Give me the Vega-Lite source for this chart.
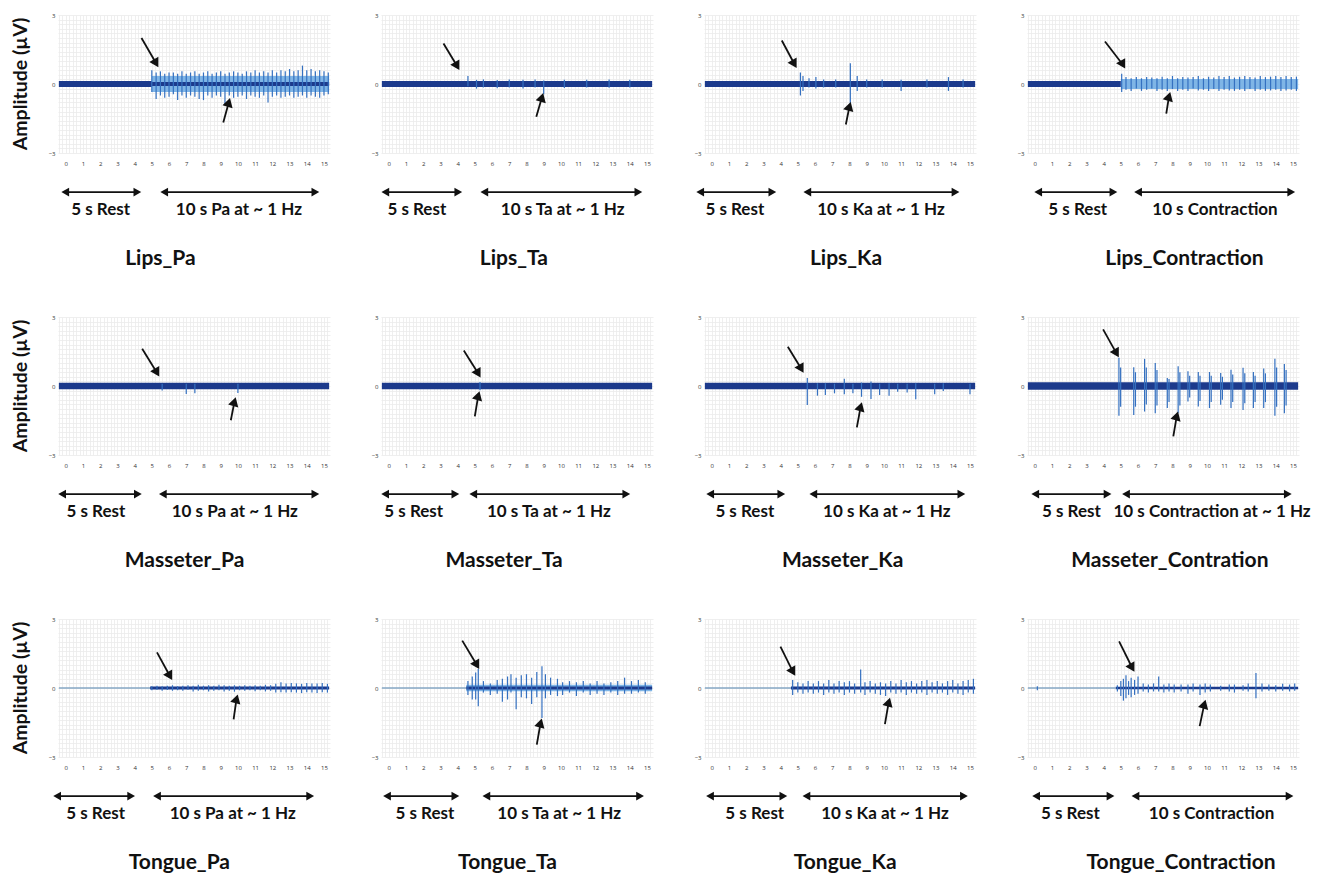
{
"$schema": "https://vega.github.io/schema/vega-lite/v6.json",
"padding": {"left": 10, "top": 12, "right": 0, "bottom": 0},
"background": "white",
"data": {"values": [
{"p":"Lips_Pa","k":"b","t":-0.4,"t2":5.0,"v":-0.13,"v2":0.13},
{"p":"Lips_Pa","k":"e","t":5.0,"t2":15.3,"v":-0.35,"v2":0.35},
{"p":"Lips_Pa","k":"b","t":5.0,"t2":15.3,"v":-0.09,"v2":0.09},
{"p":"Lips_Pa","k":"sp","t":5.0,"v":-0.35,"v2":0.6},
{"p":"Lips_Pa","k":"sp","t":5.25,"v":-0.65,"v2":0.5},
{"p":"Lips_Pa","k":"sp","t":5.5,"v":-0.5,"v2":0.55},
{"p":"Lips_Pa","k":"sp","t":5.75,"v":-0.6,"v2":0.45},
{"p":"Lips_Pa","k":"sp","t":6.0,"v":-0.55,"v2":0.5},
{"p":"Lips_Pa","k":"sp","t":6.25,"v":-0.45,"v2":0.5},
{"p":"Lips_Pa","k":"sp","t":6.5,"v":-0.7,"v2":0.45},
{"p":"Lips_Pa","k":"sp","t":6.75,"v":-0.5,"v2":0.55},
{"p":"Lips_Pa","k":"sp","t":7.0,"v":-0.6,"v2":0.45},
{"p":"Lips_Pa","k":"sp","t":7.25,"v":-0.5,"v2":0.5},
{"p":"Lips_Pa","k":"sp","t":7.5,"v":-0.55,"v2":0.55},
{"p":"Lips_Pa","k":"sp","t":7.75,"v":-0.65,"v2":0.45},
{"p":"Lips_Pa","k":"sp","t":8.0,"v":-0.7,"v2":0.5},
{"p":"Lips_Pa","k":"sp","t":8.25,"v":-0.5,"v2":0.55},
{"p":"Lips_Pa","k":"sp","t":8.5,"v":-0.6,"v2":0.45},
{"p":"Lips_Pa","k":"sp","t":8.75,"v":-0.5,"v2":0.5},
{"p":"Lips_Pa","k":"sp","t":9.0,"v":-0.55,"v2":0.55},
{"p":"Lips_Pa","k":"sp","t":9.25,"v":-0.9,"v2":0.45},
{"p":"Lips_Pa","k":"sp","t":9.5,"v":-0.5,"v2":0.5},
{"p":"Lips_Pa","k":"sp","t":9.75,"v":-0.6,"v2":0.55},
{"p":"Lips_Pa","k":"sp","t":10.0,"v":-0.55,"v2":0.5},
{"p":"Lips_Pa","k":"sp","t":10.25,"v":-0.5,"v2":0.45},
{"p":"Lips_Pa","k":"sp","t":10.5,"v":-0.65,"v2":0.55},
{"p":"Lips_Pa","k":"sp","t":10.75,"v":-0.5,"v2":0.5},
{"p":"Lips_Pa","k":"sp","t":11.0,"v":-0.55,"v2":0.6},
{"p":"Lips_Pa","k":"sp","t":11.25,"v":-0.6,"v2":0.5},
{"p":"Lips_Pa","k":"sp","t":11.5,"v":-0.5,"v2":0.55},
{"p":"Lips_Pa","k":"sp","t":11.75,"v":-0.8,"v2":0.5},
{"p":"Lips_Pa","k":"sp","t":12.0,"v":-0.55,"v2":0.6},
{"p":"Lips_Pa","k":"sp","t":12.25,"v":-0.5,"v2":0.5},
{"p":"Lips_Pa","k":"sp","t":12.5,"v":-0.6,"v2":0.6},
{"p":"Lips_Pa","k":"sp","t":12.75,"v":-0.55,"v2":0.55},
{"p":"Lips_Pa","k":"sp","t":13.0,"v":-0.5,"v2":0.65},
{"p":"Lips_Pa","k":"sp","t":13.25,"v":-0.6,"v2":0.55},
{"p":"Lips_Pa","k":"sp","t":13.5,"v":-0.55,"v2":0.6},
{"p":"Lips_Pa","k":"sp","t":13.75,"v":-0.5,"v2":0.8},
{"p":"Lips_Pa","k":"sp","t":14.0,"v":-0.6,"v2":0.6},
{"p":"Lips_Pa","k":"sp","t":14.25,"v":-0.5,"v2":0.65},
{"p":"Lips_Pa","k":"sp","t":14.5,"v":-0.55,"v2":0.55},
{"p":"Lips_Pa","k":"sp","t":14.75,"v":-0.6,"v2":0.6},
{"p":"Lips_Pa","k":"sp","t":15.0,"v":-0.5,"v2":0.55},
{"p":"Lips_Pa","k":"sp","t":15.25,"v":-0.45,"v2":0.5},
{"p":"Lips_Pa","k":"ad","t":5.25,"v":0.9,"t2":4.4,"v2":2.0},
{"p":"Lips_Pa","k":"au","t":9.47,"v":-0.8,"t2":9.15,"v2":-1.67},
{"p":"Lips_Pa","k":"hl","t":-0.03,"t2":4.16,"v":-4.7},
{"p":"Lips_Pa","k":"hr","t":4.16,"v":-4.7},
{"p":"Lips_Pa","k":"hl","t":5.72,"t2":14.5,"v":-4.7},
{"p":"Lips_Pa","k":"hr","t":14.5,"v":-4.7},
{"p":"Lips_Pa","k":"tx","t":2.03,"v":-5.47,"s":"5 s Rest"},
{"p":"Lips_Pa","k":"tx","t":10.06,"v":-5.47,"s":"10 s Pa at ~ 1 Hz"},
{"p":"Lips_Pa","k":"ti","t":5.5,"v":-7.6,"s":"Lips_Pa"},
{"p":"Lips_Pa","k":"yt","t":-2.6,"v":0,"s":"Amplitude  (µV)"},

{"p":"Lips_Ta","k":"b","t":-0.4,"t2":15.3,"v":-0.13,"v2":0.13},
{"p":"Lips_Ta","k":"sp","t":4.6,"v":-0.1,"v2":0.35},
{"p":"Lips_Ta","k":"sp","t":5.1,"v":-0.2,"v2":0.18},
{"p":"Lips_Ta","k":"sp","t":5.5,"v":-0.15,"v2":0.2},
{"p":"Lips_Ta","k":"sp","t":6.3,"v":-0.18,"v2":0.17},
{"p":"Lips_Ta","k":"sp","t":7.0,"v":-0.15,"v2":0.2},
{"p":"Lips_Ta","k":"sp","t":7.8,"v":-0.2,"v2":0.18},
{"p":"Lips_Ta","k":"sp","t":8.5,"v":-0.15,"v2":0.2},
{"p":"Lips_Ta","k":"sp","t":9.0,"v":-0.45,"v2":0.15},
{"p":"Lips_Ta","k":"sp","t":10.2,"v":-0.17,"v2":0.18},
{"p":"Lips_Ta","k":"sp","t":11.5,"v":-0.15,"v2":0.18},
{"p":"Lips_Ta","k":"sp","t":12.8,"v":-0.16,"v2":0.2},
{"p":"Lips_Ta","k":"sp","t":14.0,"v":-0.15,"v2":0.18},
{"p":"Lips_Ta","k":"ad","t":3.97,"v":0.78,"t2":3.18,"v2":1.76},
{"p":"Lips_Ta","k":"au","t":8.9,"v":-0.58,"t2":8.57,"v2":-1.42},
{"p":"Lips_Ta","k":"hl","t":-0.2,"t2":4.04,"v":-4.7},
{"p":"Lips_Ta","k":"hr","t":4.04,"v":-4.7},
{"p":"Lips_Ta","k":"hl","t":5.55,"t2":14.5,"v":-4.7},
{"p":"Lips_Ta","k":"hr","t":14.5,"v":-4.7},
{"p":"Lips_Ta","k":"tx","t":1.63,"v":-5.47,"s":"5 s Rest"},
{"p":"Lips_Ta","k":"tx","t":10.1,"v":-5.47,"s":"10 s Ta at ~ 1 Hz"},
{"p":"Lips_Ta","k":"ti","t":7.27,"v":-7.6,"s":"Lips_Ta"},

{"p":"Lips_Ka","k":"b","t":-0.4,"t2":15.3,"v":-0.13,"v2":0.13},
{"p":"Lips_Ka","k":"sp","t":5.15,"v":-0.5,"v2":0.5},
{"p":"Lips_Ka","k":"sp","t":5.3,"v":-0.3,"v2":0.35},
{"p":"Lips_Ka","k":"sp","t":5.65,"v":-0.15,"v2":0.25},
{"p":"Lips_Ka","k":"sp","t":6.05,"v":-0.2,"v2":0.3},
{"p":"Lips_Ka","k":"sp","t":6.5,"v":-0.15,"v2":0.2},
{"p":"Lips_Ka","k":"sp","t":7.2,"v":-0.15,"v2":0.2},
{"p":"Lips_Ka","k":"sp","t":8.05,"v":-0.95,"v2":0.9},
{"p":"Lips_Ka","k":"sp","t":8.45,"v":-0.3,"v2":0.35},
{"p":"Lips_Ka","k":"sp","t":9.0,"v":-0.15,"v2":0.2},
{"p":"Lips_Ka","k":"sp","t":9.9,"v":-0.15,"v2":0.2},
{"p":"Lips_Ka","k":"sp","t":11.0,"v":-0.3,"v2":0.18},
{"p":"Lips_Ka","k":"sp","t":12.5,"v":-0.15,"v2":0.2},
{"p":"Lips_Ka","k":"sp","t":13.75,"v":-0.3,"v2":0.3},
{"p":"Lips_Ka","k":"sp","t":14.6,"v":-0.15,"v2":0.2},
{"p":"Lips_Ka","k":"ad","t":4.8,"v":0.87,"t2":4.07,"v2":1.89},
{"p":"Lips_Ka","k":"au","t":8.0,"v":-0.97,"t2":7.79,"v2":-1.76},
{"p":"Lips_Ka","k":"hl","t":-0.67,"t2":3.52,"v":-4.7},
{"p":"Lips_Ka","k":"hr","t":3.52,"v":-4.7},
{"p":"Lips_Ka","k":"hl","t":5.55,"t2":14.16,"v":-4.7},
{"p":"Lips_Ka","k":"hr","t":14.16,"v":-4.7},
{"p":"Lips_Ka","k":"tx","t":1.34,"v":-5.47,"s":"5 s Rest"},
{"p":"Lips_Ka","k":"tx","t":9.83,"v":-5.47,"s":"10 s Ka at ~ 1 Hz"},
{"p":"Lips_Ka","k":"ti","t":7.8,"v":-7.6,"s":"Lips_Ka"},

{"p":"Lips_Contraction","k":"b","t":-0.4,"t2":5.0,"v":-0.13,"v2":0.13},
{"p":"Lips_Contraction","k":"e","t":5.0,"t2":15.3,"v":-0.22,"v2":0.22},
{"p":"Lips_Contraction","k":"sp","t":5.05,"v":-0.35,"v2":0.45},
{"p":"Lips_Contraction","k":"sp","t":5.3,"v":-0.25,"v2":0.3},
{"p":"Lips_Contraction","k":"sp","t":5.6,"v":-0.3,"v2":0.25},
{"p":"Lips_Contraction","k":"sp","t":5.9,"v":-0.2,"v2":0.3},
{"p":"Lips_Contraction","k":"sp","t":6.2,"v":-0.3,"v2":0.25},
{"p":"Lips_Contraction","k":"sp","t":6.5,"v":-0.25,"v2":0.3},
{"p":"Lips_Contraction","k":"sp","t":6.8,"v":-0.2,"v2":0.28},
{"p":"Lips_Contraction","k":"sp","t":7.1,"v":-0.3,"v2":0.25},
{"p":"Lips_Contraction","k":"sp","t":7.4,"v":-0.25,"v2":0.32},
{"p":"Lips_Contraction","k":"sp","t":7.7,"v":-0.3,"v2":0.25},
{"p":"Lips_Contraction","k":"sp","t":8.0,"v":-0.22,"v2":0.35},
{"p":"Lips_Contraction","k":"sp","t":8.3,"v":-0.3,"v2":0.25},
{"p":"Lips_Contraction","k":"sp","t":8.6,"v":-0.25,"v2":0.3},
{"p":"Lips_Contraction","k":"sp","t":8.9,"v":-0.3,"v2":0.28},
{"p":"Lips_Contraction","k":"sp","t":9.2,"v":-0.2,"v2":0.3},
{"p":"Lips_Contraction","k":"sp","t":9.5,"v":-0.28,"v2":0.35},
{"p":"Lips_Contraction","k":"sp","t":9.8,"v":-0.25,"v2":0.25},
{"p":"Lips_Contraction","k":"sp","t":10.1,"v":-0.3,"v2":0.32},
{"p":"Lips_Contraction","k":"sp","t":10.4,"v":-0.22,"v2":0.28},
{"p":"Lips_Contraction","k":"sp","t":10.7,"v":-0.3,"v2":0.35},
{"p":"Lips_Contraction","k":"sp","t":11.0,"v":-0.25,"v2":0.3},
{"p":"Lips_Contraction","k":"sp","t":11.3,"v":-0.28,"v2":0.35},
{"p":"Lips_Contraction","k":"sp","t":11.6,"v":-0.3,"v2":0.28},
{"p":"Lips_Contraction","k":"sp","t":11.9,"v":-0.25,"v2":0.32},
{"p":"Lips_Contraction","k":"sp","t":12.2,"v":-0.3,"v2":0.35},
{"p":"Lips_Contraction","k":"sp","t":12.5,"v":-0.22,"v2":0.3},
{"p":"Lips_Contraction","k":"sp","t":12.8,"v":-0.3,"v2":0.28},
{"p":"Lips_Contraction","k":"sp","t":13.1,"v":-0.25,"v2":0.35},
{"p":"Lips_Contraction","k":"sp","t":13.4,"v":-0.3,"v2":0.3},
{"p":"Lips_Contraction","k":"sp","t":13.7,"v":-0.28,"v2":0.32},
{"p":"Lips_Contraction","k":"sp","t":14.0,"v":-0.25,"v2":0.35},
{"p":"Lips_Contraction","k":"sp","t":14.3,"v":-0.3,"v2":0.3},
{"p":"Lips_Contraction","k":"sp","t":14.6,"v":-0.28,"v2":0.35},
{"p":"Lips_Contraction","k":"sp","t":14.9,"v":-0.25,"v2":0.3},
{"p":"Lips_Contraction","k":"sp","t":15.2,"v":-0.3,"v2":0.32},
{"p":"Lips_Contraction","k":"ad","t":5.12,"v":0.84,"t2":4.08,"v2":1.85},
{"p":"Lips_Contraction","k":"au","t":7.8,"v":-0.54,"t2":7.64,"v2":-1.29},
{"p":"Lips_Contraction","k":"hl","t":0.2,"t2":4.57,"v":-4.7},
{"p":"Lips_Contraction","k":"hr","t":4.57,"v":-4.7},
{"p":"Lips_Contraction","k":"hl","t":6.0,"t2":14.9,"v":-4.7},
{"p":"Lips_Contraction","k":"hr","t":14.9,"v":-4.7},
{"p":"Lips_Contraction","k":"tx","t":2.5,"v":-5.47,"s":"5 s Rest"},
{"p":"Lips_Contraction","k":"tx","t":10.47,"v":-5.47,"s":"10 s Contraction"},
{"p":"Lips_Contraction","k":"ti","t":8.7,"v":-7.6,"s":"Lips_Contraction"},

{"p":"Masseter_Pa","k":"b","t":-0.4,"t2":15.3,"v":-0.14,"v2":0.14},
{"p":"Masseter_Pa","k":"sp","t":5.6,"v":-0.2,"v2":0.1},
{"p":"Masseter_Pa","k":"sp","t":7.0,"v":-0.35,"v2":0.1},
{"p":"Masseter_Pa","k":"sp","t":7.5,"v":-0.32,"v2":0.1},
{"p":"Masseter_Pa","k":"sp","t":10.0,"v":-0.3,"v2":0.1},
{"p":"Masseter_Pa","k":"ad","t":5.3,"v":0.58,"t2":4.44,"v2":1.62},
{"p":"Masseter_Pa","k":"au","t":9.8,"v":-0.68,"t2":9.59,"v2":-1.49},
{"p":"Masseter_Pa","k":"hl","t":-0.21,"t2":4.19,"v":-4.7},
{"p":"Masseter_Pa","k":"hr","t":4.19,"v":-4.7},
{"p":"Masseter_Pa","k":"hl","t":5.64,"t2":14.5,"v":-4.7},
{"p":"Masseter_Pa","k":"hr","t":14.5,"v":-4.7},
{"p":"Masseter_Pa","k":"tx","t":1.75,"v":-5.47,"s":"5 s Rest"},
{"p":"Masseter_Pa","k":"tx","t":9.82,"v":-5.47,"s":"10 s Pa at ~ 1 Hz"},
{"p":"Masseter_Pa","k":"ti","t":6.9,"v":-7.6,"s":"Masseter_Pa"},
{"p":"Masseter_Pa","k":"yt","t":-2.6,"v":0,"s":"Amplitude  (µV)"},

{"p":"Masseter_Ta","k":"b","t":-0.4,"t2":15.3,"v":-0.14,"v2":0.14},
{"p":"Masseter_Ta","k":"sp","t":5.3,"v":-0.18,"v2":0.17},
{"p":"Masseter_Ta","k":"ad","t":5.2,"v":0.54,"t2":4.36,"v2":1.54},
{"p":"Masseter_Ta","k":"au","t":5.2,"v":-0.42,"t2":5.0,"v2":-1.32},
{"p":"Masseter_Ta","k":"hl","t":-0.21,"t2":3.87,"v":-4.7},
{"p":"Masseter_Ta","k":"hr","t":3.87,"v":-4.7},
{"p":"Masseter_Ta","k":"hl","t":4.91,"t2":13.8,"v":-4.7},
{"p":"Masseter_Ta","k":"hr","t":13.8,"v":-4.7},
{"p":"Masseter_Ta","k":"tx","t":1.45,"v":-5.47,"s":"5 s Rest"},
{"p":"Masseter_Ta","k":"tx","t":9.3,"v":-5.47,"s":"10 s Ta at ~ 1 Hz"},
{"p":"Masseter_Ta","k":"ti","t":6.7,"v":-7.6,"s":"Masseter_Ta"},

{"p":"Masseter_Ka","k":"b","t":-0.4,"t2":15.3,"v":-0.14,"v2":0.14},
{"p":"Masseter_Ka","k":"sp","t":5.55,"v":-0.83,"v2":0.35},
{"p":"Masseter_Ka","k":"sp","t":6.14,"v":-0.42,"v2":0.12},
{"p":"Masseter_Ka","k":"sp","t":6.6,"v":-0.39,"v2":0.12},
{"p":"Masseter_Ka","k":"sp","t":7.13,"v":-0.32,"v2":0.1},
{"p":"Masseter_Ka","k":"sp","t":7.7,"v":-0.36,"v2":0.31},
{"p":"Masseter_Ka","k":"sp","t":8.2,"v":-0.32,"v2":0.1},
{"p":"Masseter_Ka","k":"sp","t":8.7,"v":-0.47,"v2":0.15},
{"p":"Masseter_Ka","k":"sp","t":9.25,"v":-0.57,"v2":0.2},
{"p":"Masseter_Ka","k":"sp","t":9.75,"v":-0.39,"v2":0.1},
{"p":"Masseter_Ka","k":"sp","t":10.3,"v":-0.42,"v2":0.12},
{"p":"Masseter_Ka","k":"sp","t":10.8,"v":-0.25,"v2":0.1},
{"p":"Masseter_Ka","k":"sp","t":11.35,"v":-0.28,"v2":0.1},
{"p":"Masseter_Ka","k":"sp","t":11.85,"v":-0.58,"v2":0.12},
{"p":"Masseter_Ka","k":"sp","t":12.95,"v":-0.36,"v2":0.1},
{"p":"Masseter_Ka","k":"sp","t":13.45,"v":-0.22,"v2":0.12},
{"p":"Masseter_Ka","k":"sp","t":15.0,"v":-0.36,"v2":0.1},
{"p":"Masseter_Ka","k":"ad","t":5.2,"v":0.75,"t2":4.42,"v2":1.71},
{"p":"Masseter_Ka","k":"au","t":8.65,"v":-0.9,"t2":8.43,"v2":-1.8},
{"p":"Masseter_Ka","k":"hl","t":-0.09,"t2":4.04,"v":-4.7},
{"p":"Masseter_Ka","k":"hr","t":4.04,"v":-4.7},
{"p":"Masseter_Ka","k":"hl","t":5.9,"t2":14.5,"v":-4.7},
{"p":"Masseter_Ka","k":"hr","t":14.5,"v":-4.7},
{"p":"Masseter_Ka","k":"tx","t":1.92,"v":-5.47,"s":"5 s Rest"},
{"p":"Masseter_Ka","k":"tx","t":10.17,"v":-5.47,"s":"10 s Ka at ~ 1 Hz"},
{"p":"Masseter_Ka","k":"ti","t":7.6,"v":-7.6,"s":"Masseter_Ka"},

{"p":"Masseter_Contration","k":"b","t":-0.4,"t2":15.3,"v":-0.16,"v2":0.16},
{"p":"Masseter_Contration","k":"sp","t":4.89,"v":-1.29,"v2":1.23},
{"p":"Masseter_Contration","k":"sp","t":4.99,"v":-0.9,"v2":0.8},
{"p":"Masseter_Contration","k":"sp","t":5.75,"v":-1.26,"v2":0.82},
{"p":"Masseter_Contration","k":"sp","t":5.85,"v":-0.9,"v2":0.6},
{"p":"Masseter_Contration","k":"sp","t":6.38,"v":-1.11,"v2":1.18},
{"p":"Masseter_Contration","k":"sp","t":6.48,"v":-0.8,"v2":0.8},
{"p":"Masseter_Contration","k":"sp","t":7.0,"v":-1.18,"v2":1.0},
{"p":"Masseter_Contration","k":"sp","t":7.1,"v":-0.85,"v2":0.7},
{"p":"Masseter_Contration","k":"sp","t":7.7,"v":-0.96,"v2":0.35},
{"p":"Masseter_Contration","k":"sp","t":7.8,"v":-0.7,"v2":0.3},
{"p":"Masseter_Contration","k":"sp","t":8.33,"v":-1.18,"v2":0.86},
{"p":"Masseter_Contration","k":"sp","t":8.43,"v":-0.85,"v2":0.6},
{"p":"Masseter_Contration","k":"sp","t":8.9,"v":-0.67,"v2":0.64},
{"p":"Masseter_Contration","k":"sp","t":9.0,"v":-0.5,"v2":0.45},
{"p":"Masseter_Contration","k":"sp","t":9.5,"v":-0.89,"v2":0.61},
{"p":"Masseter_Contration","k":"sp","t":9.6,"v":-0.65,"v2":0.45},
{"p":"Masseter_Contration","k":"sp","t":10.15,"v":-0.96,"v2":0.61},
{"p":"Masseter_Contration","k":"sp","t":10.25,"v":-0.7,"v2":0.45},
{"p":"Masseter_Contration","k":"sp","t":10.8,"v":-0.82,"v2":0.57},
{"p":"Masseter_Contration","k":"sp","t":10.9,"v":-0.6,"v2":0.4},
{"p":"Masseter_Contration","k":"sp","t":11.4,"v":-0.96,"v2":0.71},
{"p":"Masseter_Contration","k":"sp","t":11.5,"v":-0.7,"v2":0.5},
{"p":"Masseter_Contration","k":"sp","t":12.1,"v":-1.04,"v2":0.79},
{"p":"Masseter_Contration","k":"sp","t":12.2,"v":-0.75,"v2":0.55},
{"p":"Masseter_Contration","k":"sp","t":12.7,"v":-0.96,"v2":0.61},
{"p":"Masseter_Contration","k":"sp","t":12.8,"v":-0.7,"v2":0.45},
{"p":"Masseter_Contration","k":"sp","t":13.3,"v":-0.96,"v2":0.76},
{"p":"Masseter_Contration","k":"sp","t":13.4,"v":-0.7,"v2":0.55},
{"p":"Masseter_Contration","k":"sp","t":13.95,"v":-1.29,"v2":1.18},
{"p":"Masseter_Contration","k":"sp","t":14.05,"v":-0.9,"v2":0.8},
{"p":"Masseter_Contration","k":"sp","t":14.5,"v":-1.18,"v2":0.96},
{"p":"Masseter_Contration","k":"sp","t":14.6,"v":-0.85,"v2":0.7},
{"p":"Masseter_Contration","k":"ad","t":4.75,"v":1.42,"t2":3.97,"v2":2.46},
{"p":"Masseter_Contration","k":"au","t":8.25,"v":-1.3,"t2":8.05,"v2":-2.19},
{"p":"Masseter_Contration","k":"hl","t":0.03,"t2":4.23,"v":-4.7},
{"p":"Masseter_Contration","k":"hr","t":4.23,"v":-4.7},
{"p":"Masseter_Contration","k":"hl","t":5.3,"t2":14.7,"v":-4.7},
{"p":"Masseter_Contration","k":"hr","t":14.7,"v":-4.7},
{"p":"Masseter_Contration","k":"tx","t":2.13,"v":-5.47,"s":"5 s Rest"},
{"p":"Masseter_Contration","k":"tx","t":10.3,"v":-5.47,"s":"10 s Contraction at ~ 1 Hz"},
{"p":"Masseter_Contration","k":"ti","t":7.85,"v":-7.6,"s":"Masseter_Contration"},

{"p":"Tongue_Pa","k":"r","t":-0.4,"t2":4.9,"v":0},
{"p":"Tongue_Pa","k":"b","t":4.9,"t2":15.3,"v":-0.06,"v2":0.06},
{"p":"Tongue_Pa","k":"sp","t":5.0,"v":-0.1,"v2":0.08},
{"p":"Tongue_Pa","k":"sp","t":5.3,"v":-0.08,"v2":0.1},
{"p":"Tongue_Pa","k":"sp","t":5.6,"v":-0.12,"v2":0.08},
{"p":"Tongue_Pa","k":"sp","t":5.9,"v":-0.09,"v2":0.1},
{"p":"Tongue_Pa","k":"sp","t":6.2,"v":-0.12,"v2":0.12},
{"p":"Tongue_Pa","k":"sp","t":6.5,"v":-0.1,"v2":0.08},
{"p":"Tongue_Pa","k":"sp","t":6.8,"v":-0.12,"v2":0.1},
{"p":"Tongue_Pa","k":"sp","t":7.1,"v":-0.08,"v2":0.12},
{"p":"Tongue_Pa","k":"sp","t":7.4,"v":-0.15,"v2":0.1},
{"p":"Tongue_Pa","k":"sp","t":7.7,"v":-0.12,"v2":0.14},
{"p":"Tongue_Pa","k":"sp","t":8.0,"v":-0.1,"v2":0.1},
{"p":"Tongue_Pa","k":"sp","t":8.3,"v":-0.15,"v2":0.12},
{"p":"Tongue_Pa","k":"sp","t":8.6,"v":-0.12,"v2":0.1},
{"p":"Tongue_Pa","k":"sp","t":8.9,"v":-0.1,"v2":0.14},
{"p":"Tongue_Pa","k":"sp","t":9.2,"v":-0.15,"v2":0.12},
{"p":"Tongue_Pa","k":"sp","t":9.5,"v":-0.12,"v2":0.1},
{"p":"Tongue_Pa","k":"sp","t":9.8,"v":-0.16,"v2":0.12},
{"p":"Tongue_Pa","k":"sp","t":10.1,"v":-0.1,"v2":0.1},
{"p":"Tongue_Pa","k":"sp","t":10.4,"v":-0.12,"v2":0.12},
{"p":"Tongue_Pa","k":"sp","t":10.7,"v":-0.1,"v2":0.1},
{"p":"Tongue_Pa","k":"sp","t":11.0,"v":-0.14,"v2":0.12},
{"p":"Tongue_Pa","k":"sp","t":11.3,"v":-0.1,"v2":0.1},
{"p":"Tongue_Pa","k":"sp","t":11.6,"v":-0.15,"v2":0.14},
{"p":"Tongue_Pa","k":"sp","t":11.9,"v":-0.12,"v2":0.12},
{"p":"Tongue_Pa","k":"sp","t":12.2,"v":-0.2,"v2":0.18},
{"p":"Tongue_Pa","k":"sp","t":12.5,"v":-0.18,"v2":0.25},
{"p":"Tongue_Pa","k":"sp","t":12.8,"v":-0.2,"v2":0.2},
{"p":"Tongue_Pa","k":"sp","t":13.1,"v":-0.18,"v2":0.22},
{"p":"Tongue_Pa","k":"sp","t":13.4,"v":-0.2,"v2":0.2},
{"p":"Tongue_Pa","k":"sp","t":13.7,"v":-0.22,"v2":0.18},
{"p":"Tongue_Pa","k":"sp","t":14.0,"v":-0.18,"v2":0.22},
{"p":"Tongue_Pa","k":"sp","t":14.3,"v":-0.2,"v2":0.2},
{"p":"Tongue_Pa","k":"sp","t":14.6,"v":-0.22,"v2":0.2},
{"p":"Tongue_Pa","k":"sp","t":14.9,"v":-0.18,"v2":0.22},
{"p":"Tongue_Pa","k":"sp","t":15.2,"v":-0.2,"v2":0.18},
{"p":"Tongue_Pa","k":"ad","t":6.05,"v":0.52,"t2":5.3,"v2":1.55},
{"p":"Tongue_Pa","k":"au","t":9.92,"v":-0.47,"t2":9.75,"v2":-1.36},
{"p":"Tongue_Pa","k":"hl","t":-0.5,"t2":3.8,"v":-4.7},
{"p":"Tongue_Pa","k":"hr","t":3.8,"v":-4.7},
{"p":"Tongue_Pa","k":"hl","t":5.3,"t2":14.2,"v":-4.7},
{"p":"Tongue_Pa","k":"hr","t":14.2,"v":-4.7},
{"p":"Tongue_Pa","k":"tx","t":1.74,"v":-5.47,"s":"5 s Rest"},
{"p":"Tongue_Pa","k":"tx","t":9.7,"v":-5.47,"s":"10 s Pa at ~ 1 Hz"},
{"p":"Tongue_Pa","k":"ti","t":6.6,"v":-7.6,"s":"Tongue_Pa"},
{"p":"Tongue_Pa","k":"yt","t":-2.6,"v":0,"s":"Amplitude  (µV)"},

{"p":"Tongue_Ta","k":"r","t":-0.4,"t2":4.5,"v":0},
{"p":"Tongue_Ta","k":"e","t":4.5,"t2":15.3,"v":-0.14,"v2":0.14},
{"p":"Tongue_Ta","k":"b","t":4.5,"t2":15.3,"v":-0.06,"v2":0.06},
{"p":"Tongue_Ta","k":"sp","t":4.6,"v":-0.3,"v2":0.3},
{"p":"Tongue_Ta","k":"sp","t":4.85,"v":-0.5,"v2":0.5},
{"p":"Tongue_Ta","k":"sp","t":5.05,"v":-0.5,"v2":0.67},
{"p":"Tongue_Ta","k":"sp","t":5.2,"v":-0.79,"v2":0.83},
{"p":"Tongue_Ta","k":"sp","t":5.5,"v":-0.2,"v2":0.3},
{"p":"Tongue_Ta","k":"sp","t":5.9,"v":-0.3,"v2":0.2},
{"p":"Tongue_Ta","k":"sp","t":6.3,"v":-0.25,"v2":0.35},
{"p":"Tongue_Ta","k":"sp","t":6.6,"v":-0.6,"v2":0.4},
{"p":"Tongue_Ta","k":"sp","t":6.9,"v":-0.5,"v2":0.5},
{"p":"Tongue_Ta","k":"sp","t":7.1,"v":-0.2,"v2":0.6},
{"p":"Tongue_Ta","k":"sp","t":7.4,"v":-0.92,"v2":0.45},
{"p":"Tongue_Ta","k":"sp","t":7.7,"v":-0.4,"v2":0.55},
{"p":"Tongue_Ta","k":"sp","t":8.0,"v":-0.45,"v2":0.6},
{"p":"Tongue_Ta","k":"sp","t":8.3,"v":-0.7,"v2":0.45},
{"p":"Tongue_Ta","k":"sp","t":8.6,"v":-0.4,"v2":0.7},
{"p":"Tongue_Ta","k":"sp","t":8.9,"v":-1.3,"v2":0.95},
{"p":"Tongue_Ta","k":"sp","t":9.1,"v":-0.45,"v2":0.6},
{"p":"Tongue_Ta","k":"sp","t":9.4,"v":-0.3,"v2":0.45},
{"p":"Tongue_Ta","k":"sp","t":9.8,"v":-0.35,"v2":0.4},
{"p":"Tongue_Ta","k":"sp","t":10.1,"v":-0.3,"v2":0.25},
{"p":"Tongue_Ta","k":"sp","t":10.5,"v":-0.2,"v2":0.3},
{"p":"Tongue_Ta","k":"sp","t":10.9,"v":-0.35,"v2":0.25},
{"p":"Tongue_Ta","k":"sp","t":11.3,"v":-0.2,"v2":0.3},
{"p":"Tongue_Ta","k":"sp","t":11.7,"v":-0.3,"v2":0.2},
{"p":"Tongue_Ta","k":"sp","t":12.1,"v":-0.25,"v2":0.3},
{"p":"Tongue_Ta","k":"sp","t":12.5,"v":-0.3,"v2":0.2},
{"p":"Tongue_Ta","k":"sp","t":12.9,"v":-0.2,"v2":0.25},
{"p":"Tongue_Ta","k":"sp","t":13.3,"v":-0.3,"v2":0.3},
{"p":"Tongue_Ta","k":"sp","t":13.7,"v":-0.25,"v2":0.45},
{"p":"Tongue_Ta","k":"sp","t":14.1,"v":-0.25,"v2":0.3},
{"p":"Tongue_Ta","k":"sp","t":14.5,"v":-0.2,"v2":0.35},
{"p":"Tongue_Ta","k":"sp","t":14.9,"v":-0.25,"v2":0.25},
{"p":"Tongue_Ta","k":"ad","t":5.12,"v":1.0,"t2":4.27,"v2":2.06},
{"p":"Tongue_Ta","k":"au","t":8.82,"v":-1.52,"t2":8.6,"v2":-2.46},
{"p":"Tongue_Ta","k":"hl","t":-0.1,"t2":3.87,"v":-4.7},
{"p":"Tongue_Ta","k":"hr","t":3.87,"v":-4.7},
{"p":"Tongue_Ta","k":"hl","t":5.67,"t2":14.6,"v":-4.7},
{"p":"Tongue_Ta","k":"hr","t":14.6,"v":-4.7},
{"p":"Tongue_Ta","k":"tx","t":2.1,"v":-5.47,"s":"5 s Rest"},
{"p":"Tongue_Ta","k":"tx","t":9.9,"v":-5.47,"s":"10 s Ta at ~ 1 Hz"},
{"p":"Tongue_Ta","k":"ti","t":6.9,"v":-7.6,"s":"Tongue_Ta"},

{"p":"Tongue_Ka","k":"r","t":-0.4,"t2":4.6,"v":0},
{"p":"Tongue_Ka","k":"b","t":4.6,"t2":15.3,"v":-0.06,"v2":0.06},
{"p":"Tongue_Ka","k":"sp","t":4.7,"v":-0.3,"v2":0.35},
{"p":"Tongue_Ka","k":"sp","t":5.0,"v":-0.2,"v2":0.25},
{"p":"Tongue_Ka","k":"sp","t":5.3,"v":-0.25,"v2":0.2},
{"p":"Tongue_Ka","k":"sp","t":5.6,"v":-0.2,"v2":0.3},
{"p":"Tongue_Ka","k":"sp","t":5.9,"v":-0.25,"v2":0.2},
{"p":"Tongue_Ka","k":"sp","t":6.2,"v":-0.2,"v2":0.3},
{"p":"Tongue_Ka","k":"sp","t":6.5,"v":-0.3,"v2":0.2},
{"p":"Tongue_Ka","k":"sp","t":6.8,"v":-0.2,"v2":0.35},
{"p":"Tongue_Ka","k":"sp","t":7.1,"v":-0.25,"v2":0.2},
{"p":"Tongue_Ka","k":"sp","t":7.4,"v":-0.2,"v2":0.3},
{"p":"Tongue_Ka","k":"sp","t":7.7,"v":-0.3,"v2":0.25},
{"p":"Tongue_Ka","k":"sp","t":8.0,"v":-0.2,"v2":0.3},
{"p":"Tongue_Ka","k":"sp","t":8.3,"v":-0.25,"v2":0.2},
{"p":"Tongue_Ka","k":"sp","t":8.65,"v":-0.2,"v2":0.8},
{"p":"Tongue_Ka","k":"sp","t":8.9,"v":-0.3,"v2":0.25},
{"p":"Tongue_Ka","k":"sp","t":9.2,"v":-0.2,"v2":0.3},
{"p":"Tongue_Ka","k":"sp","t":9.5,"v":-0.25,"v2":0.2},
{"p":"Tongue_Ka","k":"sp","t":9.8,"v":-0.3,"v2":0.25},
{"p":"Tongue_Ka","k":"sp","t":10.1,"v":-0.35,"v2":0.2},
{"p":"Tongue_Ka","k":"sp","t":10.4,"v":-0.2,"v2":0.3},
{"p":"Tongue_Ka","k":"sp","t":10.7,"v":-0.25,"v2":0.2},
{"p":"Tongue_Ka","k":"sp","t":11.0,"v":-0.2,"v2":0.35},
{"p":"Tongue_Ka","k":"sp","t":11.3,"v":-0.3,"v2":0.25},
{"p":"Tongue_Ka","k":"sp","t":11.6,"v":-0.2,"v2":0.3},
{"p":"Tongue_Ka","k":"sp","t":11.9,"v":-0.25,"v2":0.2},
{"p":"Tongue_Ka","k":"sp","t":12.2,"v":-0.2,"v2":0.3},
{"p":"Tongue_Ka","k":"sp","t":12.5,"v":-0.3,"v2":0.35},
{"p":"Tongue_Ka","k":"sp","t":12.8,"v":-0.2,"v2":0.25},
{"p":"Tongue_Ka","k":"sp","t":13.1,"v":-0.25,"v2":0.3},
{"p":"Tongue_Ka","k":"sp","t":13.4,"v":-0.2,"v2":0.2},
{"p":"Tongue_Ka","k":"sp","t":13.7,"v":-0.3,"v2":0.3},
{"p":"Tongue_Ka","k":"sp","t":14.0,"v":-0.2,"v2":0.35},
{"p":"Tongue_Ka","k":"sp","t":14.3,"v":-0.25,"v2":0.2},
{"p":"Tongue_Ka","k":"sp","t":14.6,"v":-0.3,"v2":0.3},
{"p":"Tongue_Ka","k":"sp","t":14.9,"v":-0.2,"v2":0.35},
{"p":"Tongue_Ka","k":"sp","t":15.2,"v":-0.25,"v2":0.4},
{"p":"Tongue_Ka","k":"ad","t":4.72,"v":0.7,"t2":3.99,"v2":1.8},
{"p":"Tongue_Ka","k":"au","t":10.28,"v":-0.61,"t2":10.06,"v2":-1.57},
{"p":"Tongue_Ka","k":"hl","t":-0.1,"t2":4.16,"v":-4.7},
{"p":"Tongue_Ka","k":"hr","t":4.16,"v":-4.7},
{"p":"Tongue_Ka","k":"hl","t":5.5,"t2":14.65,"v":-4.7},
{"p":"Tongue_Ka","k":"hr","t":14.65,"v":-4.7},
{"p":"Tongue_Ka","k":"tx","t":2.5,"v":-5.47,"s":"5 s Rest"},
{"p":"Tongue_Ka","k":"tx","t":10.06,"v":-5.47,"s":"10 s Ka at ~ 1 Hz"},
{"p":"Tongue_Ka","k":"ti","t":7.75,"v":-7.6,"s":"Tongue_Ka"},

{"p":"Tongue_Contraction","k":"r","t":-0.4,"t2":4.7,"v":0},
{"p":"Tongue_Contraction","k":"sp","t":0.15,"v":-0.1,"v2":0.08},
{"p":"Tongue_Contraction","k":"b","t":4.7,"t2":15.3,"v":-0.05,"v2":0.05},
{"p":"Tongue_Contraction","k":"sp","t":4.8,"v":-0.15,"v2":0.12},
{"p":"Tongue_Contraction","k":"sp","t":5.0,"v":-0.35,"v2":0.3},
{"p":"Tongue_Contraction","k":"sp","t":5.15,"v":-0.55,"v2":0.4},
{"p":"Tongue_Contraction","k":"sp","t":5.3,"v":-0.45,"v2":0.55},
{"p":"Tongue_Contraction","k":"sp","t":5.45,"v":-0.3,"v2":0.3},
{"p":"Tongue_Contraction","k":"sp","t":5.6,"v":-0.4,"v2":0.45},
{"p":"Tongue_Contraction","k":"sp","t":5.8,"v":-0.3,"v2":0.35},
{"p":"Tongue_Contraction","k":"sp","t":6.0,"v":-0.25,"v2":0.5},
{"p":"Tongue_Contraction","k":"sp","t":6.3,"v":-0.15,"v2":0.2},
{"p":"Tongue_Contraction","k":"sp","t":6.6,"v":-0.2,"v2":0.15},
{"p":"Tongue_Contraction","k":"sp","t":6.9,"v":-0.15,"v2":0.2},
{"p":"Tongue_Contraction","k":"sp","t":7.2,"v":-0.15,"v2":0.5},
{"p":"Tongue_Contraction","k":"sp","t":7.5,"v":-0.2,"v2":0.15},
{"p":"Tongue_Contraction","k":"sp","t":7.8,"v":-0.15,"v2":0.2},
{"p":"Tongue_Contraction","k":"sp","t":8.1,"v":-0.2,"v2":0.15},
{"p":"Tongue_Contraction","k":"sp","t":8.5,"v":-0.15,"v2":0.15},
{"p":"Tongue_Contraction","k":"sp","t":8.9,"v":-0.25,"v2":0.15},
{"p":"Tongue_Contraction","k":"sp","t":9.2,"v":-0.15,"v2":0.2},
{"p":"Tongue_Contraction","k":"sp","t":9.6,"v":-0.3,"v2":0.15},
{"p":"Tongue_Contraction","k":"sp","t":9.9,"v":-0.2,"v2":0.2},
{"p":"Tongue_Contraction","k":"sp","t":10.2,"v":-0.15,"v2":0.15},
{"p":"Tongue_Contraction","k":"sp","t":10.8,"v":-0.12,"v2":0.1},
{"p":"Tongue_Contraction","k":"sp","t":11.3,"v":-0.15,"v2":0.15},
{"p":"Tongue_Contraction","k":"sp","t":11.6,"v":-0.2,"v2":0.15},
{"p":"Tongue_Contraction","k":"sp","t":12.1,"v":-0.12,"v2":0.12},
{"p":"Tongue_Contraction","k":"sp","t":12.4,"v":-0.15,"v2":0.2},
{"p":"Tongue_Contraction","k":"sp","t":12.85,"v":-0.45,"v2":0.65},
{"p":"Tongue_Contraction","k":"sp","t":13.2,"v":-0.15,"v2":0.2},
{"p":"Tongue_Contraction","k":"sp","t":13.6,"v":-0.12,"v2":0.15},
{"p":"Tongue_Contraction","k":"sp","t":14.0,"v":-0.15,"v2":0.12},
{"p":"Tongue_Contraction","k":"sp","t":14.4,"v":-0.12,"v2":0.18},
{"p":"Tongue_Contraction","k":"sp","t":14.8,"v":-0.15,"v2":0.15},
{"p":"Tongue_Contraction","k":"sp","t":15.1,"v":-0.12,"v2":0.2},
{"p":"Tongue_Contraction","k":"ad","t":5.66,"v":0.88,"t2":4.9,"v2":2.03},
{"p":"Tongue_Contraction","k":"au","t":9.85,"v":-0.7,"t2":9.58,"v2":-1.66},
{"p":"Tongue_Contraction","k":"hl","t":0.08,"t2":4.4,"v":-4.7},
{"p":"Tongue_Contraction","k":"hr","t":4.4,"v":-4.7},
{"p":"Tongue_Contraction","k":"hl","t":5.85,"t2":14.8,"v":-4.7},
{"p":"Tongue_Contraction","k":"hr","t":14.8,"v":-4.7},
{"p":"Tongue_Contraction","k":"tx","t":2.07,"v":-5.47,"s":"5 s Rest"},
{"p":"Tongue_Contraction","k":"tx","t":10.27,"v":-5.47,"s":"10 s Contraction"},
{"p":"Tongue_Contraction","k":"ti","t":8.5,"v":-7.6,"s":"Tongue_Contraction"}
]},
"vconcat": [
{"hconcat": [
{"width":272,"height":138,"transform":[{"filter":"datum.p==='Lips_Pa'"}],
 "encoding":{"x":{"field":"t","type":"quantitative","scale":{"domain":[-0.45,15.35],"nice":false,"zero":false},"axis":{"title":null,"tickCount":64,"labelPadding":7,"labelExpr":"datum.value % 1 === 0 && datum.value >= 0 ? format(datum.value, 'd') : ''"}},
  "y":{"field":"v","type":"quantitative","scale":{"domain":[-3,3],"nice":false,"zero":false},"axis":{"title":null,"tickCount":24,"labelExpr":"abs(datum.value) === 3 || datum.value === 0 ? format(datum.value, 'd') : ''"}}},
 "layer":[
  {"transform":[{"filter":"datum.k==='e'"}],"mark":{"type":"rect","color":"#7fb5e6"},"encoding":{"x2":{"field":"t2"},"y2":{"field":"v2"}}},
  {"transform":[{"filter":"datum.k==='b'"}],"mark":{"type":"rect","color":"#1c3a8c"},"encoding":{"x2":{"field":"t2"},"y2":{"field":"v2"}}},
  {"transform":[{"filter":"datum.k==='r'"}],"mark":{"type":"rule","color":"#86a7c4","strokeWidth":1.5},"encoding":{"x2":{"field":"t2"}}},
  {"transform":[{"filter":"datum.k==='sp'"}],"mark":{"type":"rule","color":"#3470c0","strokeWidth":1.2},"encoding":{"y2":{"field":"v2"}}},
  {"transform":[{"filter":"datum.k==='ad'||datum.k==='au'"}],"mark":{"type":"rule","color":"#111111","strokeWidth":1.8},"encoding":{"x2":{"field":"t2"},"y2":{"field":"v2"}}},
  {"transform":[{"filter":"datum.k==='hl'"}],"mark":{"type":"rule","color":"#111111","strokeWidth":1.6},"encoding":{"x2":{"field":"t2"}}},
  {"transform":[{"filter":"datum.k==='ad'"}],"mark":{"type":"point","shape":"triangle-down","angle":330,"filled":true,"opacity":1,"color":"#111111","size":110},"encoding":{}},
  {"transform":[{"filter":"datum.k==='au'"}],"mark":{"type":"point","shape":"triangle-up","angle":16,"filled":true,"opacity":1,"color":"#111111","size":110},"encoding":{}},
  {"transform":[{"filter":"datum.k==='hl'"}],"mark":{"type":"point","shape":"triangle-left","filled":true,"opacity":1,"color":"#111111","size":80},"encoding":{}},
  {"transform":[{"filter":"datum.k==='hr'"}],"mark":{"type":"point","shape":"triangle-right","filled":true,"opacity":1,"color":"#111111","size":80},"encoding":{}},
  {"transform":[{"filter":"datum.k==='tx'"}],"mark":{"type":"text","font":"Lato","fontWeight":"bold","fontSize":17,"color":"#111111"},"encoding":{"text":{"field":"s"}}},
  {"transform":[{"filter":"datum.k==='ti'"}],"mark":{"type":"text","font":"Lato","fontWeight":"bold","fontSize":21,"color":"#111111"},"encoding":{"text":{"field":"s"}}},
  {"transform":[{"filter":"datum.k==='yt'"}],"mark":{"type":"text","font":"Lato","fontWeight":"bold","fontSize":19.5,"angle":270,"color":"#111111"},"encoding":{"text":{"field":"s"}}}
 ]},
{"width":272,"height":138,"transform":[{"filter":"datum.p==='Lips_Ta'"}],
 "encoding":{"x":{"field":"t","type":"quantitative","scale":{"domain":[-0.45,15.35],"nice":false,"zero":false},"axis":{"title":null,"tickCount":64,"labelPadding":7,"labelExpr":"datum.value % 1 === 0 && datum.value >= 0 ? format(datum.value, 'd') : ''"}},
  "y":{"field":"v","type":"quantitative","scale":{"domain":[-3,3],"nice":false,"zero":false},"axis":{"title":null,"tickCount":24,"labelExpr":"abs(datum.value) === 3 || datum.value === 0 ? format(datum.value, 'd') : ''"}}},
 "layer":[
  {"transform":[{"filter":"datum.k==='e'"}],"mark":{"type":"rect","color":"#7fb5e6"},"encoding":{"x2":{"field":"t2"},"y2":{"field":"v2"}}},
  {"transform":[{"filter":"datum.k==='b'"}],"mark":{"type":"rect","color":"#1c3a8c"},"encoding":{"x2":{"field":"t2"},"y2":{"field":"v2"}}},
  {"transform":[{"filter":"datum.k==='r'"}],"mark":{"type":"rule","color":"#86a7c4","strokeWidth":1.5},"encoding":{"x2":{"field":"t2"}}},
  {"transform":[{"filter":"datum.k==='sp'"}],"mark":{"type":"rule","color":"#3470c0","strokeWidth":1.2},"encoding":{"y2":{"field":"v2"}}},
  {"transform":[{"filter":"datum.k==='ad'||datum.k==='au'"}],"mark":{"type":"rule","color":"#111111","strokeWidth":1.8},"encoding":{"x2":{"field":"t2"},"y2":{"field":"v2"}}},
  {"transform":[{"filter":"datum.k==='hl'"}],"mark":{"type":"rule","color":"#111111","strokeWidth":1.6},"encoding":{"x2":{"field":"t2"}}},
  {"transform":[{"filter":"datum.k==='ad'"}],"mark":{"type":"point","shape":"triangle-down","angle":330,"filled":true,"opacity":1,"color":"#111111","size":110},"encoding":{}},
  {"transform":[{"filter":"datum.k==='au'"}],"mark":{"type":"point","shape":"triangle-up","angle":16,"filled":true,"opacity":1,"color":"#111111","size":110},"encoding":{}},
  {"transform":[{"filter":"datum.k==='hl'"}],"mark":{"type":"point","shape":"triangle-left","filled":true,"opacity":1,"color":"#111111","size":80},"encoding":{}},
  {"transform":[{"filter":"datum.k==='hr'"}],"mark":{"type":"point","shape":"triangle-right","filled":true,"opacity":1,"color":"#111111","size":80},"encoding":{}},
  {"transform":[{"filter":"datum.k==='tx'"}],"mark":{"type":"text","font":"Lato","fontWeight":"bold","fontSize":17,"color":"#111111"},"encoding":{"text":{"field":"s"}}},
  {"transform":[{"filter":"datum.k==='ti'"}],"mark":{"type":"text","font":"Lato","fontWeight":"bold","fontSize":21,"color":"#111111"},"encoding":{"text":{"field":"s"}}}
 ]},
{"width":272,"height":138,"transform":[{"filter":"datum.p==='Lips_Ka'"}],
 "encoding":{"x":{"field":"t","type":"quantitative","scale":{"domain":[-0.45,15.35],"nice":false,"zero":false},"axis":{"title":null,"tickCount":64,"labelPadding":7,"labelExpr":"datum.value % 1 === 0 && datum.value >= 0 ? format(datum.value, 'd') : ''"}},
  "y":{"field":"v","type":"quantitative","scale":{"domain":[-3,3],"nice":false,"zero":false},"axis":{"title":null,"tickCount":24,"labelExpr":"abs(datum.value) === 3 || datum.value === 0 ? format(datum.value, 'd') : ''"}}},
 "layer":[
  {"transform":[{"filter":"datum.k==='e'"}],"mark":{"type":"rect","color":"#7fb5e6"},"encoding":{"x2":{"field":"t2"},"y2":{"field":"v2"}}},
  {"transform":[{"filter":"datum.k==='b'"}],"mark":{"type":"rect","color":"#1c3a8c"},"encoding":{"x2":{"field":"t2"},"y2":{"field":"v2"}}},
  {"transform":[{"filter":"datum.k==='r'"}],"mark":{"type":"rule","color":"#86a7c4","strokeWidth":1.5},"encoding":{"x2":{"field":"t2"}}},
  {"transform":[{"filter":"datum.k==='sp'"}],"mark":{"type":"rule","color":"#3470c0","strokeWidth":1.2},"encoding":{"y2":{"field":"v2"}}},
  {"transform":[{"filter":"datum.k==='ad'||datum.k==='au'"}],"mark":{"type":"rule","color":"#111111","strokeWidth":1.8},"encoding":{"x2":{"field":"t2"},"y2":{"field":"v2"}}},
  {"transform":[{"filter":"datum.k==='hl'"}],"mark":{"type":"rule","color":"#111111","strokeWidth":1.6},"encoding":{"x2":{"field":"t2"}}},
  {"transform":[{"filter":"datum.k==='ad'"}],"mark":{"type":"point","shape":"triangle-down","angle":330,"filled":true,"opacity":1,"color":"#111111","size":110},"encoding":{}},
  {"transform":[{"filter":"datum.k==='au'"}],"mark":{"type":"point","shape":"triangle-up","angle":16,"filled":true,"opacity":1,"color":"#111111","size":110},"encoding":{}},
  {"transform":[{"filter":"datum.k==='hl'"}],"mark":{"type":"point","shape":"triangle-left","filled":true,"opacity":1,"color":"#111111","size":80},"encoding":{}},
  {"transform":[{"filter":"datum.k==='hr'"}],"mark":{"type":"point","shape":"triangle-right","filled":true,"opacity":1,"color":"#111111","size":80},"encoding":{}},
  {"transform":[{"filter":"datum.k==='tx'"}],"mark":{"type":"text","font":"Lato","fontWeight":"bold","fontSize":17,"color":"#111111"},"encoding":{"text":{"field":"s"}}},
  {"transform":[{"filter":"datum.k==='ti'"}],"mark":{"type":"text","font":"Lato","fontWeight":"bold","fontSize":21,"color":"#111111"},"encoding":{"text":{"field":"s"}}}
 ]},
{"width":272,"height":138,"transform":[{"filter":"datum.p==='Lips_Contraction'"}],
 "encoding":{"x":{"field":"t","type":"quantitative","scale":{"domain":[-0.45,15.35],"nice":false,"zero":false},"axis":{"title":null,"tickCount":64,"labelPadding":7,"labelExpr":"datum.value % 1 === 0 && datum.value >= 0 ? format(datum.value, 'd') : ''"}},
  "y":{"field":"v","type":"quantitative","scale":{"domain":[-3,3],"nice":false,"zero":false},"axis":{"title":null,"tickCount":24,"labelExpr":"abs(datum.value) === 3 || datum.value === 0 ? format(datum.value, 'd') : ''"}}},
 "layer":[
  {"transform":[{"filter":"datum.k==='e'"}],"mark":{"type":"rect","color":"#7fb5e6"},"encoding":{"x2":{"field":"t2"},"y2":{"field":"v2"}}},
  {"transform":[{"filter":"datum.k==='b'"}],"mark":{"type":"rect","color":"#1c3a8c"},"encoding":{"x2":{"field":"t2"},"y2":{"field":"v2"}}},
  {"transform":[{"filter":"datum.k==='r'"}],"mark":{"type":"rule","color":"#86a7c4","strokeWidth":1.5},"encoding":{"x2":{"field":"t2"}}},
  {"transform":[{"filter":"datum.k==='sp'"}],"mark":{"type":"rule","color":"#3470c0","strokeWidth":1.2},"encoding":{"y2":{"field":"v2"}}},
  {"transform":[{"filter":"datum.k==='ad'||datum.k==='au'"}],"mark":{"type":"rule","color":"#111111","strokeWidth":1.8},"encoding":{"x2":{"field":"t2"},"y2":{"field":"v2"}}},
  {"transform":[{"filter":"datum.k==='hl'"}],"mark":{"type":"rule","color":"#111111","strokeWidth":1.6},"encoding":{"x2":{"field":"t2"}}},
  {"transform":[{"filter":"datum.k==='ad'"}],"mark":{"type":"point","shape":"triangle-down","angle":330,"filled":true,"opacity":1,"color":"#111111","size":110},"encoding":{}},
  {"transform":[{"filter":"datum.k==='au'"}],"mark":{"type":"point","shape":"triangle-up","angle":16,"filled":true,"opacity":1,"color":"#111111","size":110},"encoding":{}},
  {"transform":[{"filter":"datum.k==='hl'"}],"mark":{"type":"point","shape":"triangle-left","filled":true,"opacity":1,"color":"#111111","size":80},"encoding":{}},
  {"transform":[{"filter":"datum.k==='hr'"}],"mark":{"type":"point","shape":"triangle-right","filled":true,"opacity":1,"color":"#111111","size":80},"encoding":{}},
  {"transform":[{"filter":"datum.k==='tx'"}],"mark":{"type":"text","font":"Lato","fontWeight":"bold","fontSize":17,"color":"#111111"},"encoding":{"text":{"field":"s"}}},
  {"transform":[{"filter":"datum.k==='ti'"}],"mark":{"type":"text","font":"Lato","fontWeight":"bold","fontSize":21,"color":"#111111"},"encoding":{"text":{"field":"s"}}}
 ]}
], "spacing": 51, "bounds": "flush"},
{"hconcat": [
{"width":272,"height":138,"transform":[{"filter":"datum.p==='Masseter_Pa'"}],
 "encoding":{"x":{"field":"t","type":"quantitative","scale":{"domain":[-0.45,15.35],"nice":false,"zero":false},"axis":{"title":null,"tickCount":64,"labelPadding":7,"labelExpr":"datum.value % 1 === 0 && datum.value >= 0 ? format(datum.value, 'd') : ''"}},
  "y":{"field":"v","type":"quantitative","scale":{"domain":[-3,3],"nice":false,"zero":false},"axis":{"title":null,"tickCount":24,"labelExpr":"abs(datum.value) === 3 || datum.value === 0 ? format(datum.value, 'd') : ''"}}},
 "layer":[
  {"transform":[{"filter":"datum.k==='e'"}],"mark":{"type":"rect","color":"#7fb5e6"},"encoding":{"x2":{"field":"t2"},"y2":{"field":"v2"}}},
  {"transform":[{"filter":"datum.k==='b'"}],"mark":{"type":"rect","color":"#1c3a8c"},"encoding":{"x2":{"field":"t2"},"y2":{"field":"v2"}}},
  {"transform":[{"filter":"datum.k==='r'"}],"mark":{"type":"rule","color":"#86a7c4","strokeWidth":1.5},"encoding":{"x2":{"field":"t2"}}},
  {"transform":[{"filter":"datum.k==='sp'"}],"mark":{"type":"rule","color":"#3470c0","strokeWidth":1.2},"encoding":{"y2":{"field":"v2"}}},
  {"transform":[{"filter":"datum.k==='ad'||datum.k==='au'"}],"mark":{"type":"rule","color":"#111111","strokeWidth":1.8},"encoding":{"x2":{"field":"t2"},"y2":{"field":"v2"}}},
  {"transform":[{"filter":"datum.k==='hl'"}],"mark":{"type":"rule","color":"#111111","strokeWidth":1.6},"encoding":{"x2":{"field":"t2"}}},
  {"transform":[{"filter":"datum.k==='ad'"}],"mark":{"type":"point","shape":"triangle-down","angle":330,"filled":true,"opacity":1,"color":"#111111","size":110},"encoding":{}},
  {"transform":[{"filter":"datum.k==='au'"}],"mark":{"type":"point","shape":"triangle-up","angle":16,"filled":true,"opacity":1,"color":"#111111","size":110},"encoding":{}},
  {"transform":[{"filter":"datum.k==='hl'"}],"mark":{"type":"point","shape":"triangle-left","filled":true,"opacity":1,"color":"#111111","size":80},"encoding":{}},
  {"transform":[{"filter":"datum.k==='hr'"}],"mark":{"type":"point","shape":"triangle-right","filled":true,"opacity":1,"color":"#111111","size":80},"encoding":{}},
  {"transform":[{"filter":"datum.k==='tx'"}],"mark":{"type":"text","font":"Lato","fontWeight":"bold","fontSize":17,"color":"#111111"},"encoding":{"text":{"field":"s"}}},
  {"transform":[{"filter":"datum.k==='ti'"}],"mark":{"type":"text","font":"Lato","fontWeight":"bold","fontSize":21,"color":"#111111"},"encoding":{"text":{"field":"s"}}},
  {"transform":[{"filter":"datum.k==='yt'"}],"mark":{"type":"text","font":"Lato","fontWeight":"bold","fontSize":19.5,"angle":270,"color":"#111111"},"encoding":{"text":{"field":"s"}}}
 ]},
{"width":272,"height":138,"transform":[{"filter":"datum.p==='Masseter_Ta'"}],
 "encoding":{"x":{"field":"t","type":"quantitative","scale":{"domain":[-0.45,15.35],"nice":false,"zero":false},"axis":{"title":null,"tickCount":64,"labelPadding":7,"labelExpr":"datum.value % 1 === 0 && datum.value >= 0 ? format(datum.value, 'd') : ''"}},
  "y":{"field":"v","type":"quantitative","scale":{"domain":[-3,3],"nice":false,"zero":false},"axis":{"title":null,"tickCount":24,"labelExpr":"abs(datum.value) === 3 || datum.value === 0 ? format(datum.value, 'd') : ''"}}},
 "layer":[
  {"transform":[{"filter":"datum.k==='e'"}],"mark":{"type":"rect","color":"#7fb5e6"},"encoding":{"x2":{"field":"t2"},"y2":{"field":"v2"}}},
  {"transform":[{"filter":"datum.k==='b'"}],"mark":{"type":"rect","color":"#1c3a8c"},"encoding":{"x2":{"field":"t2"},"y2":{"field":"v2"}}},
  {"transform":[{"filter":"datum.k==='r'"}],"mark":{"type":"rule","color":"#86a7c4","strokeWidth":1.5},"encoding":{"x2":{"field":"t2"}}},
  {"transform":[{"filter":"datum.k==='sp'"}],"mark":{"type":"rule","color":"#3470c0","strokeWidth":1.2},"encoding":{"y2":{"field":"v2"}}},
  {"transform":[{"filter":"datum.k==='ad'||datum.k==='au'"}],"mark":{"type":"rule","color":"#111111","strokeWidth":1.8},"encoding":{"x2":{"field":"t2"},"y2":{"field":"v2"}}},
  {"transform":[{"filter":"datum.k==='hl'"}],"mark":{"type":"rule","color":"#111111","strokeWidth":1.6},"encoding":{"x2":{"field":"t2"}}},
  {"transform":[{"filter":"datum.k==='ad'"}],"mark":{"type":"point","shape":"triangle-down","angle":330,"filled":true,"opacity":1,"color":"#111111","size":110},"encoding":{}},
  {"transform":[{"filter":"datum.k==='au'"}],"mark":{"type":"point","shape":"triangle-up","angle":16,"filled":true,"opacity":1,"color":"#111111","size":110},"encoding":{}},
  {"transform":[{"filter":"datum.k==='hl'"}],"mark":{"type":"point","shape":"triangle-left","filled":true,"opacity":1,"color":"#111111","size":80},"encoding":{}},
  {"transform":[{"filter":"datum.k==='hr'"}],"mark":{"type":"point","shape":"triangle-right","filled":true,"opacity":1,"color":"#111111","size":80},"encoding":{}},
  {"transform":[{"filter":"datum.k==='tx'"}],"mark":{"type":"text","font":"Lato","fontWeight":"bold","fontSize":17,"color":"#111111"},"encoding":{"text":{"field":"s"}}},
  {"transform":[{"filter":"datum.k==='ti'"}],"mark":{"type":"text","font":"Lato","fontWeight":"bold","fontSize":21,"color":"#111111"},"encoding":{"text":{"field":"s"}}}
 ]},
{"width":272,"height":138,"transform":[{"filter":"datum.p==='Masseter_Ka'"}],
 "encoding":{"x":{"field":"t","type":"quantitative","scale":{"domain":[-0.45,15.35],"nice":false,"zero":false},"axis":{"title":null,"tickCount":64,"labelPadding":7,"labelExpr":"datum.value % 1 === 0 && datum.value >= 0 ? format(datum.value, 'd') : ''"}},
  "y":{"field":"v","type":"quantitative","scale":{"domain":[-3,3],"nice":false,"zero":false},"axis":{"title":null,"tickCount":24,"labelExpr":"abs(datum.value) === 3 || datum.value === 0 ? format(datum.value, 'd') : ''"}}},
 "layer":[
  {"transform":[{"filter":"datum.k==='e'"}],"mark":{"type":"rect","color":"#7fb5e6"},"encoding":{"x2":{"field":"t2"},"y2":{"field":"v2"}}},
  {"transform":[{"filter":"datum.k==='b'"}],"mark":{"type":"rect","color":"#1c3a8c"},"encoding":{"x2":{"field":"t2"},"y2":{"field":"v2"}}},
  {"transform":[{"filter":"datum.k==='r'"}],"mark":{"type":"rule","color":"#86a7c4","strokeWidth":1.5},"encoding":{"x2":{"field":"t2"}}},
  {"transform":[{"filter":"datum.k==='sp'"}],"mark":{"type":"rule","color":"#3470c0","strokeWidth":1.2},"encoding":{"y2":{"field":"v2"}}},
  {"transform":[{"filter":"datum.k==='ad'||datum.k==='au'"}],"mark":{"type":"rule","color":"#111111","strokeWidth":1.8},"encoding":{"x2":{"field":"t2"},"y2":{"field":"v2"}}},
  {"transform":[{"filter":"datum.k==='hl'"}],"mark":{"type":"rule","color":"#111111","strokeWidth":1.6},"encoding":{"x2":{"field":"t2"}}},
  {"transform":[{"filter":"datum.k==='ad'"}],"mark":{"type":"point","shape":"triangle-down","angle":330,"filled":true,"opacity":1,"color":"#111111","size":110},"encoding":{}},
  {"transform":[{"filter":"datum.k==='au'"}],"mark":{"type":"point","shape":"triangle-up","angle":16,"filled":true,"opacity":1,"color":"#111111","size":110},"encoding":{}},
  {"transform":[{"filter":"datum.k==='hl'"}],"mark":{"type":"point","shape":"triangle-left","filled":true,"opacity":1,"color":"#111111","size":80},"encoding":{}},
  {"transform":[{"filter":"datum.k==='hr'"}],"mark":{"type":"point","shape":"triangle-right","filled":true,"opacity":1,"color":"#111111","size":80},"encoding":{}},
  {"transform":[{"filter":"datum.k==='tx'"}],"mark":{"type":"text","font":"Lato","fontWeight":"bold","fontSize":17,"color":"#111111"},"encoding":{"text":{"field":"s"}}},
  {"transform":[{"filter":"datum.k==='ti'"}],"mark":{"type":"text","font":"Lato","fontWeight":"bold","fontSize":21,"color":"#111111"},"encoding":{"text":{"field":"s"}}}
 ]},
{"width":272,"height":138,"transform":[{"filter":"datum.p==='Masseter_Contration'"}],
 "encoding":{"x":{"field":"t","type":"quantitative","scale":{"domain":[-0.45,15.35],"nice":false,"zero":false},"axis":{"title":null,"tickCount":64,"labelPadding":7,"labelExpr":"datum.value % 1 === 0 && datum.value >= 0 ? format(datum.value, 'd') : ''"}},
  "y":{"field":"v","type":"quantitative","scale":{"domain":[-3,3],"nice":false,"zero":false},"axis":{"title":null,"tickCount":24,"labelExpr":"abs(datum.value) === 3 || datum.value === 0 ? format(datum.value, 'd') : ''"}}},
 "layer":[
  {"transform":[{"filter":"datum.k==='e'"}],"mark":{"type":"rect","color":"#7fb5e6"},"encoding":{"x2":{"field":"t2"},"y2":{"field":"v2"}}},
  {"transform":[{"filter":"datum.k==='b'"}],"mark":{"type":"rect","color":"#1c3a8c"},"encoding":{"x2":{"field":"t2"},"y2":{"field":"v2"}}},
  {"transform":[{"filter":"datum.k==='r'"}],"mark":{"type":"rule","color":"#86a7c4","strokeWidth":1.5},"encoding":{"x2":{"field":"t2"}}},
  {"transform":[{"filter":"datum.k==='sp'"}],"mark":{"type":"rule","color":"#3470c0","strokeWidth":1.2},"encoding":{"y2":{"field":"v2"}}},
  {"transform":[{"filter":"datum.k==='ad'||datum.k==='au'"}],"mark":{"type":"rule","color":"#111111","strokeWidth":1.8},"encoding":{"x2":{"field":"t2"},"y2":{"field":"v2"}}},
  {"transform":[{"filter":"datum.k==='hl'"}],"mark":{"type":"rule","color":"#111111","strokeWidth":1.6},"encoding":{"x2":{"field":"t2"}}},
  {"transform":[{"filter":"datum.k==='ad'"}],"mark":{"type":"point","shape":"triangle-down","angle":330,"filled":true,"opacity":1,"color":"#111111","size":110},"encoding":{}},
  {"transform":[{"filter":"datum.k==='au'"}],"mark":{"type":"point","shape":"triangle-up","angle":16,"filled":true,"opacity":1,"color":"#111111","size":110},"encoding":{}},
  {"transform":[{"filter":"datum.k==='hl'"}],"mark":{"type":"point","shape":"triangle-left","filled":true,"opacity":1,"color":"#111111","size":80},"encoding":{}},
  {"transform":[{"filter":"datum.k==='hr'"}],"mark":{"type":"point","shape":"triangle-right","filled":true,"opacity":1,"color":"#111111","size":80},"encoding":{}},
  {"transform":[{"filter":"datum.k==='tx'"}],"mark":{"type":"text","font":"Lato","fontWeight":"bold","fontSize":17,"color":"#111111"},"encoding":{"text":{"field":"s"}}},
  {"transform":[{"filter":"datum.k==='ti'"}],"mark":{"type":"text","font":"Lato","fontWeight":"bold","fontSize":21,"color":"#111111"},"encoding":{"text":{"field":"s"}}}
 ]}
], "spacing": 51, "bounds": "flush"},
{"hconcat": [
{"width":272,"height":138,"transform":[{"filter":"datum.p==='Tongue_Pa'"}],
 "encoding":{"x":{"field":"t","type":"quantitative","scale":{"domain":[-0.45,15.35],"nice":false,"zero":false},"axis":{"title":null,"tickCount":64,"labelPadding":7,"labelExpr":"datum.value % 1 === 0 && datum.value >= 0 ? format(datum.value, 'd') : ''"}},
  "y":{"field":"v","type":"quantitative","scale":{"domain":[-3,3],"nice":false,"zero":false},"axis":{"title":null,"tickCount":24,"labelExpr":"abs(datum.value) === 3 || datum.value === 0 ? format(datum.value, 'd') : ''"}}},
 "layer":[
  {"transform":[{"filter":"datum.k==='e'"}],"mark":{"type":"rect","color":"#7fb5e6"},"encoding":{"x2":{"field":"t2"},"y2":{"field":"v2"}}},
  {"transform":[{"filter":"datum.k==='b'"}],"mark":{"type":"rect","color":"#1c3a8c"},"encoding":{"x2":{"field":"t2"},"y2":{"field":"v2"}}},
  {"transform":[{"filter":"datum.k==='r'"}],"mark":{"type":"rule","color":"#86a7c4","strokeWidth":1.5},"encoding":{"x2":{"field":"t2"}}},
  {"transform":[{"filter":"datum.k==='sp'"}],"mark":{"type":"rule","color":"#3470c0","strokeWidth":1.2},"encoding":{"y2":{"field":"v2"}}},
  {"transform":[{"filter":"datum.k==='ad'||datum.k==='au'"}],"mark":{"type":"rule","color":"#111111","strokeWidth":1.8},"encoding":{"x2":{"field":"t2"},"y2":{"field":"v2"}}},
  {"transform":[{"filter":"datum.k==='hl'"}],"mark":{"type":"rule","color":"#111111","strokeWidth":1.6},"encoding":{"x2":{"field":"t2"}}},
  {"transform":[{"filter":"datum.k==='ad'"}],"mark":{"type":"point","shape":"triangle-down","angle":330,"filled":true,"opacity":1,"color":"#111111","size":110},"encoding":{}},
  {"transform":[{"filter":"datum.k==='au'"}],"mark":{"type":"point","shape":"triangle-up","angle":16,"filled":true,"opacity":1,"color":"#111111","size":110},"encoding":{}},
  {"transform":[{"filter":"datum.k==='hl'"}],"mark":{"type":"point","shape":"triangle-left","filled":true,"opacity":1,"color":"#111111","size":80},"encoding":{}},
  {"transform":[{"filter":"datum.k==='hr'"}],"mark":{"type":"point","shape":"triangle-right","filled":true,"opacity":1,"color":"#111111","size":80},"encoding":{}},
  {"transform":[{"filter":"datum.k==='tx'"}],"mark":{"type":"text","font":"Lato","fontWeight":"bold","fontSize":17,"color":"#111111"},"encoding":{"text":{"field":"s"}}},
  {"transform":[{"filter":"datum.k==='ti'"}],"mark":{"type":"text","font":"Lato","fontWeight":"bold","fontSize":21,"color":"#111111"},"encoding":{"text":{"field":"s"}}},
  {"transform":[{"filter":"datum.k==='yt'"}],"mark":{"type":"text","font":"Lato","fontWeight":"bold","fontSize":19.5,"angle":270,"color":"#111111"},"encoding":{"text":{"field":"s"}}}
 ]},
{"width":272,"height":138,"transform":[{"filter":"datum.p==='Tongue_Ta'"}],
 "encoding":{"x":{"field":"t","type":"quantitative","scale":{"domain":[-0.45,15.35],"nice":false,"zero":false},"axis":{"title":null,"tickCount":64,"labelPadding":7,"labelExpr":"datum.value % 1 === 0 && datum.value >= 0 ? format(datum.value, 'd') : ''"}},
  "y":{"field":"v","type":"quantitative","scale":{"domain":[-3,3],"nice":false,"zero":false},"axis":{"title":null,"tickCount":24,"labelExpr":"abs(datum.value) === 3 || datum.value === 0 ? format(datum.value, 'd') : ''"}}},
 "layer":[
  {"transform":[{"filter":"datum.k==='e'"}],"mark":{"type":"rect","color":"#7fb5e6"},"encoding":{"x2":{"field":"t2"},"y2":{"field":"v2"}}},
  {"transform":[{"filter":"datum.k==='b'"}],"mark":{"type":"rect","color":"#1c3a8c"},"encoding":{"x2":{"field":"t2"},"y2":{"field":"v2"}}},
  {"transform":[{"filter":"datum.k==='r'"}],"mark":{"type":"rule","color":"#86a7c4","strokeWidth":1.5},"encoding":{"x2":{"field":"t2"}}},
  {"transform":[{"filter":"datum.k==='sp'"}],"mark":{"type":"rule","color":"#3470c0","strokeWidth":1.2},"encoding":{"y2":{"field":"v2"}}},
  {"transform":[{"filter":"datum.k==='ad'||datum.k==='au'"}],"mark":{"type":"rule","color":"#111111","strokeWidth":1.8},"encoding":{"x2":{"field":"t2"},"y2":{"field":"v2"}}},
  {"transform":[{"filter":"datum.k==='hl'"}],"mark":{"type":"rule","color":"#111111","strokeWidth":1.6},"encoding":{"x2":{"field":"t2"}}},
  {"transform":[{"filter":"datum.k==='ad'"}],"mark":{"type":"point","shape":"triangle-down","angle":330,"filled":true,"opacity":1,"color":"#111111","size":110},"encoding":{}},
  {"transform":[{"filter":"datum.k==='au'"}],"mark":{"type":"point","shape":"triangle-up","angle":16,"filled":true,"opacity":1,"color":"#111111","size":110},"encoding":{}},
  {"transform":[{"filter":"datum.k==='hl'"}],"mark":{"type":"point","shape":"triangle-left","filled":true,"opacity":1,"color":"#111111","size":80},"encoding":{}},
  {"transform":[{"filter":"datum.k==='hr'"}],"mark":{"type":"point","shape":"triangle-right","filled":true,"opacity":1,"color":"#111111","size":80},"encoding":{}},
  {"transform":[{"filter":"datum.k==='tx'"}],"mark":{"type":"text","font":"Lato","fontWeight":"bold","fontSize":17,"color":"#111111"},"encoding":{"text":{"field":"s"}}},
  {"transform":[{"filter":"datum.k==='ti'"}],"mark":{"type":"text","font":"Lato","fontWeight":"bold","fontSize":21,"color":"#111111"},"encoding":{"text":{"field":"s"}}}
 ]},
{"width":272,"height":138,"transform":[{"filter":"datum.p==='Tongue_Ka'"}],
 "encoding":{"x":{"field":"t","type":"quantitative","scale":{"domain":[-0.45,15.35],"nice":false,"zero":false},"axis":{"title":null,"tickCount":64,"labelPadding":7,"labelExpr":"datum.value % 1 === 0 && datum.value >= 0 ? format(datum.value, 'd') : ''"}},
  "y":{"field":"v","type":"quantitative","scale":{"domain":[-3,3],"nice":false,"zero":false},"axis":{"title":null,"tickCount":24,"labelExpr":"abs(datum.value) === 3 || datum.value === 0 ? format(datum.value, 'd') : ''"}}},
 "layer":[
  {"transform":[{"filter":"datum.k==='e'"}],"mark":{"type":"rect","color":"#7fb5e6"},"encoding":{"x2":{"field":"t2"},"y2":{"field":"v2"}}},
  {"transform":[{"filter":"datum.k==='b'"}],"mark":{"type":"rect","color":"#1c3a8c"},"encoding":{"x2":{"field":"t2"},"y2":{"field":"v2"}}},
  {"transform":[{"filter":"datum.k==='r'"}],"mark":{"type":"rule","color":"#86a7c4","strokeWidth":1.5},"encoding":{"x2":{"field":"t2"}}},
  {"transform":[{"filter":"datum.k==='sp'"}],"mark":{"type":"rule","color":"#3470c0","strokeWidth":1.2},"encoding":{"y2":{"field":"v2"}}},
  {"transform":[{"filter":"datum.k==='ad'||datum.k==='au'"}],"mark":{"type":"rule","color":"#111111","strokeWidth":1.8},"encoding":{"x2":{"field":"t2"},"y2":{"field":"v2"}}},
  {"transform":[{"filter":"datum.k==='hl'"}],"mark":{"type":"rule","color":"#111111","strokeWidth":1.6},"encoding":{"x2":{"field":"t2"}}},
  {"transform":[{"filter":"datum.k==='ad'"}],"mark":{"type":"point","shape":"triangle-down","angle":330,"filled":true,"opacity":1,"color":"#111111","size":110},"encoding":{}},
  {"transform":[{"filter":"datum.k==='au'"}],"mark":{"type":"point","shape":"triangle-up","angle":16,"filled":true,"opacity":1,"color":"#111111","size":110},"encoding":{}},
  {"transform":[{"filter":"datum.k==='hl'"}],"mark":{"type":"point","shape":"triangle-left","filled":true,"opacity":1,"color":"#111111","size":80},"encoding":{}},
  {"transform":[{"filter":"datum.k==='hr'"}],"mark":{"type":"point","shape":"triangle-right","filled":true,"opacity":1,"color":"#111111","size":80},"encoding":{}},
  {"transform":[{"filter":"datum.k==='tx'"}],"mark":{"type":"text","font":"Lato","fontWeight":"bold","fontSize":17,"color":"#111111"},"encoding":{"text":{"field":"s"}}},
  {"transform":[{"filter":"datum.k==='ti'"}],"mark":{"type":"text","font":"Lato","fontWeight":"bold","fontSize":21,"color":"#111111"},"encoding":{"text":{"field":"s"}}}
 ]},
{"width":272,"height":138,"transform":[{"filter":"datum.p==='Tongue_Contraction'"}],
 "encoding":{"x":{"field":"t","type":"quantitative","scale":{"domain":[-0.45,15.35],"nice":false,"zero":false},"axis":{"title":null,"tickCount":64,"labelPadding":7,"labelExpr":"datum.value % 1 === 0 && datum.value >= 0 ? format(datum.value, 'd') : ''"}},
  "y":{"field":"v","type":"quantitative","scale":{"domain":[-3,3],"nice":false,"zero":false},"axis":{"title":null,"tickCount":24,"labelExpr":"abs(datum.value) === 3 || datum.value === 0 ? format(datum.value, 'd') : ''"}}},
 "layer":[
  {"transform":[{"filter":"datum.k==='e'"}],"mark":{"type":"rect","color":"#7fb5e6"},"encoding":{"x2":{"field":"t2"},"y2":{"field":"v2"}}},
  {"transform":[{"filter":"datum.k==='b'"}],"mark":{"type":"rect","color":"#1c3a8c"},"encoding":{"x2":{"field":"t2"},"y2":{"field":"v2"}}},
  {"transform":[{"filter":"datum.k==='r'"}],"mark":{"type":"rule","color":"#86a7c4","strokeWidth":1.5},"encoding":{"x2":{"field":"t2"}}},
  {"transform":[{"filter":"datum.k==='sp'"}],"mark":{"type":"rule","color":"#3470c0","strokeWidth":1.2},"encoding":{"y2":{"field":"v2"}}},
  {"transform":[{"filter":"datum.k==='ad'||datum.k==='au'"}],"mark":{"type":"rule","color":"#111111","strokeWidth":1.8},"encoding":{"x2":{"field":"t2"},"y2":{"field":"v2"}}},
  {"transform":[{"filter":"datum.k==='hl'"}],"mark":{"type":"rule","color":"#111111","strokeWidth":1.6},"encoding":{"x2":{"field":"t2"}}},
  {"transform":[{"filter":"datum.k==='ad'"}],"mark":{"type":"point","shape":"triangle-down","angle":330,"filled":true,"opacity":1,"color":"#111111","size":110},"encoding":{}},
  {"transform":[{"filter":"datum.k==='au'"}],"mark":{"type":"point","shape":"triangle-up","angle":16,"filled":true,"opacity":1,"color":"#111111","size":110},"encoding":{}},
  {"transform":[{"filter":"datum.k==='hl'"}],"mark":{"type":"point","shape":"triangle-left","filled":true,"opacity":1,"color":"#111111","size":80},"encoding":{}},
  {"transform":[{"filter":"datum.k==='hr'"}],"mark":{"type":"point","shape":"triangle-right","filled":true,"opacity":1,"color":"#111111","size":80},"encoding":{}},
  {"transform":[{"filter":"datum.k==='tx'"}],"mark":{"type":"text","font":"Lato","fontWeight":"bold","fontSize":17,"color":"#111111"},"encoding":{"text":{"field":"s"}}},
  {"transform":[{"filter":"datum.k==='ti'"}],"mark":{"type":"text","font":"Lato","fontWeight":"bold","fontSize":21,"color":"#111111"},"encoding":{"text":{"field":"s"}}}
 ]}
], "spacing": 51, "bounds": "flush"}
],
"spacing": 302,
"bounds": "flush",
"config": {"view": {"stroke": null},
  "axis": {"grid": true, "gridColor": "#ebebeb", "gridWidth": 0.8, "ticks": false, "domain": false, "labelFontSize": 6, "labelColor": "#333333", "labelPadding": 3, "labelOverlap": false, "labelFlush": false, "labelFont": "Open Sans"}}
}
